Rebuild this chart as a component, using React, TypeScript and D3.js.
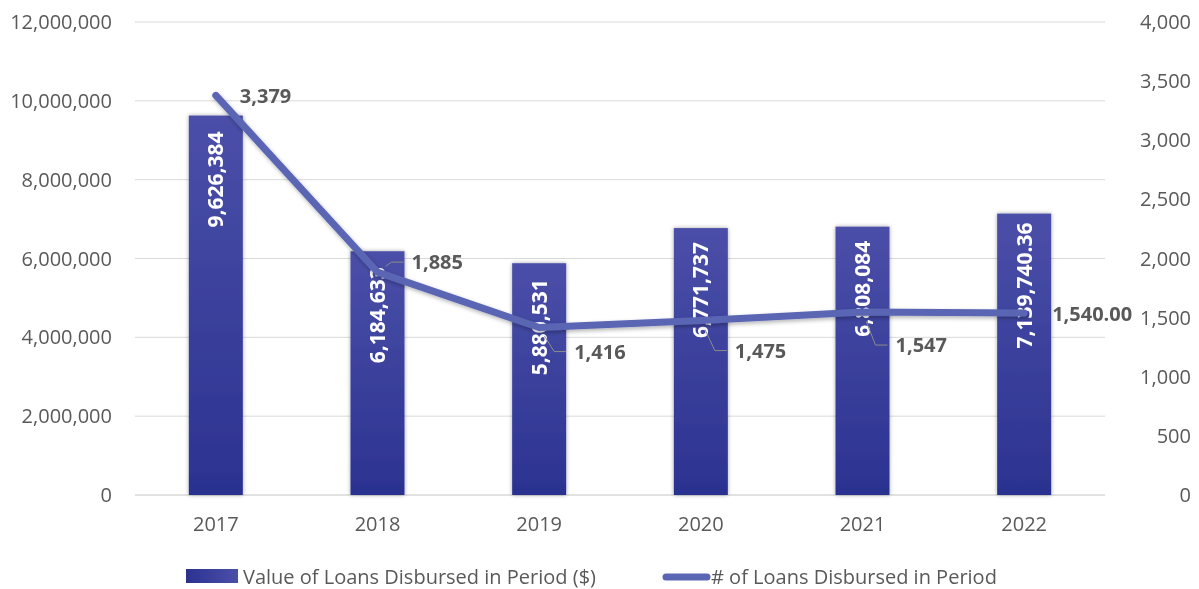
import React from "react";
import * as d3 from "d3";

const years = ["2017", "2018", "2019", "2020", "2021", "2022"];
const loanValues = [9626384, 6184633, 5880531, 6771737, 6808084, 7139740.36];
const valueLabels = ["9,626,384", "6,184,633", "5,880,531", "6,771,737", "6,808,084", "7,139,740.36"];
const loanCounts = [3379, 1885, 1416, 1475, 1547, 1540];
const countLabels = ["3,379", "1,885", "1,416", "1,475", "1,547", "1,540.00"];
const leftTicks = [0, 2000000, 4000000, 6000000, 8000000, 10000000, 12000000];
const rightTicks = [0, 500, 1000, 1500, 2000, 2500, 3000, 3500, 4000];
const seriesNames = ["Value of Loans Disbursed in Period ($)", "# of Loans Disbursed in Period"];

// manual label offsets (layout)
const countLabelOffsets: [number, number][] = [
  [24, 1],
  [34, -10],
  [35, 24],
  [34, 30],
  [33, 33],
  [28, 1],
];
const barLabelGaps = [16, 16, 16, 14, 14, 9];

const W = 1199;
const H = 589;
const plotLeft = 135;
const plotRight = 1105;
const plotTop = 22;
const plotBottom = 495;
const FONT = "'Open Sans', sans-serif";
const GRAY = "#595959";

export default function App() {
  const x = d3.scaleBand<string>().domain(years).range([plotLeft, plotRight]).paddingInner(0.666).paddingOuter(0.333);
  const xc = d3.scalePoint<string>().domain(years).range([plotLeft, plotRight]).padding(0.5);
  const yL = d3.scaleLinear().domain([0, 12000000]).range([plotBottom, plotTop]);
  const yR = d3.scaleLinear().domain([0, 4000]).range([plotBottom, plotTop]);
  const fmt = d3.format(",");

  const line = d3
    .line<number>()
    .x((_, i) => xc(years[i]) as number)
    .y((d) => yR(d));

  return (
    <div style={{ position: "fixed", left: 0, top: 0, width: W, height: H }}>
      <svg width={W} height={H} style={{ display: "block", fontFamily: FONT }}>
        <defs>
          <linearGradient id="barGrad" x1="0" y1="0" x2="0" y2="1">
            <stop offset="0" stopColor="#4b4fa8" />
            <stop offset="1" stopColor="#2b3290" />
          </linearGradient>
          <linearGradient id="legGrad" x1="0" y1="0" x2="1" y2="0">
            <stop offset="0" stopColor="#2b3290" />
            <stop offset="1" stopColor="#4b4fa8" />
          </linearGradient>
          <filter id="shadow" x="-30%" y="-10%" width="160%" height="120%">
            <feGaussianBlur in="SourceAlpha" stdDeviation="2.2" />
            <feOffset dx="0" dy="0" result="b" />
            <feComponentTransfer>
              <feFuncA type="linear" slope="0.35" />
            </feComponentTransfer>
            <feMerge>
              <feMergeNode />
              <feMergeNode in="SourceGraphic" />
            </feMerge>
          </filter>
          <filter id="lshadow" x="-10%" y="-20%" width="120%" height="140%">
            <feGaussianBlur in="SourceAlpha" stdDeviation="2" />
            <feOffset dx="1" dy="2" />
            <feComponentTransfer>
              <feFuncA type="linear" slope="0.3" />
            </feComponentTransfer>
            <feMerge>
              <feMergeNode />
              <feMergeNode in="SourceGraphic" />
            </feMerge>
          </filter>
        </defs>

        {/* gridlines */}
        {leftTicks.map((t) => (
          <line
            key={t}
            x1={plotLeft}
            x2={plotRight}
            y1={yL(t)}
            y2={yL(t)}
            stroke="#d9d9d9"
            strokeWidth={t === 0 ? 1.5 : 1}
          />
        ))}

        {/* left axis labels */}
        {leftTicks.map((t) => (
          <text key={t} x={112} y={yL(t)} dy="0.35em" textAnchor="end" fontSize={20} fill={GRAY}>
            {fmt(t)}
          </text>
        ))}
        {/* right axis labels */}
        {rightTicks.map((t) => (
          <text key={t} x={1191} y={yR(t)} dy="0.35em" textAnchor="end" fontSize={20} fill={GRAY}>
            {fmt(t)}
          </text>
        ))}
        {/* x labels */}
        {years.map((yr) => (
          <text key={yr} x={xc(yr)} y={524} dy="0.35em" textAnchor="middle" fontSize={20} fill={GRAY}>
            {yr}
          </text>
        ))}

        {/* bars */}
        {loanValues.map((v, i) => (
          <rect
            key={i}
            x={x(years[i])}
            y={yL(v)}
            width={x.bandwidth()}
            height={plotBottom - yL(v)}
            fill="url(#barGrad)"
            filter="url(#shadow)"
          />
        ))}

        {/* bar labels */}
        {loanValues.map((v, i) => {
          const cx = xc(years[i]) as number;
          const ty = yL(v) + barLabelGaps[i];
          return (
            <text
              key={i}
              transform={`translate(${cx},${ty}) rotate(-90)`}
              textAnchor="end"
              dy="0.36em"
              fontSize={21}
              fontWeight="bold"
              fill="#ffffff"
            >
              {valueLabels[i]}
            </text>
          );
        })}

        {/* line */}
        <path
          d={line(loanCounts) || ""}
          fill="none"
          stroke="#5a66b4"
          strokeWidth={7}
          strokeLinecap="round"
          strokeLinejoin="round"
          filter="url(#lshadow)"
        />

        {/* line labels with leaders */}
        {loanCounts.map((c, i) => {
          const px = xc(years[i]) as number;
          const py = yR(c);
          const [dx, dy] = countLabelOffsets[i];
          const tx = px + dx;
          const ty = py + dy;
          let leader = null;
          if (Math.abs(dy) > 5) {
            const ex = tx - 20;
            const ey = ty;
            const vx = ex - px;
            const vy = ey - py;
            const len = Math.sqrt(vx * vx + vy * vy);
            const sx = px + (vx / len) * 10;
            const sy = py + (vy / len) * 10;
            leader = (
              <polyline
                points={`${sx},${sy} ${ex},${ey} ${tx - 8},${ey}`}
                fill="none"
                stroke="#8c8c8c"
                strokeWidth={1}
              />
            );
          }
          return (
            <g key={i}>
              {leader}
              <text x={tx} y={ty} dy="0.35em" fontSize={20} fontWeight="bold" fill={GRAY}>
                {countLabels[i]}
              </text>
            </g>
          );
        })}

        {/* legend */}
        <rect x={186} y={569} width={52} height={14} fill="url(#legGrad)" />
        <text x={243} y={577} dy="0.35em" fontSize={20} fill={GRAY}>
          {seriesNames[0]}
        </text>
        <line x1={666} x2={707} y1={577} y2={577} stroke="#5a66b4" strokeWidth={7} strokeLinecap="round" />
        <text x={711} y={577} dy="0.35em" fontSize={20} fill={GRAY}>
          {seriesNames[1]}
        </text>
      </svg>
    </div>
  );
}
